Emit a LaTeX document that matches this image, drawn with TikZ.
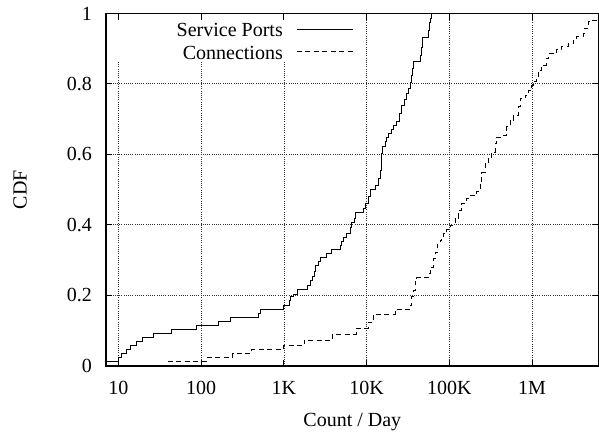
\documentclass[tikz,border=0pt]{standalone}
\usepackage{fontspec}
\setmainfont{Liberation Serif}
\begin{document}
\begin{tikzpicture}[x=1pt,y=-1pt,
  lbl/.style={font=\fontsize{20}{24}\selectfont, inner sep=0pt},
  gridline/.style={black!80, line width=0.5pt, dash pattern=on 0.7pt off 1.5pt},
  frame/.style={line width=1.1pt},
  tickmark/.style={line width=0.8pt},
  curve/.style={line width=0.9pt, line join=miter},
  dcurve/.style={curve, dash pattern=on 5pt off 3.5pt}]
\useasboundingbox (0,0) rectangle (599,431);

% grid
\foreach \gx in {118.3,201,283.8} \draw[gridline] (\gx,62) -- (\gx,366);
\foreach \gx in {366.5,449.3,532} \draw[gridline] (\gx,13.5) -- (\gx,366);
\foreach \gy in {295.2,224.7,154.2,83.7} \draw[gridline] (106,\gy) -- (598.5,\gy);

% ticks
\foreach \gx in {118.3,201,283.8,366.5,449.3,532} {
  \draw[tickmark] (\gx,366) -- (\gx,360);
  \draw[tickmark] (\gx,13.5) -- (\gx,19.5);
}
\foreach \gy in {366,295.2,224.7,154.2,83.7,13.5} {
  \draw[tickmark] (106,\gy) -- (112,\gy);
  \draw[tickmark] (598.5,\gy) -- (592.5,\gy);
}

% frame
\draw[frame] (106,13.5) rectangle (598.5,366);

% y tick labels
\node[lbl, anchor=east] (y0) at (92,366) {0};
\node[lbl, anchor=east] (y2) at (92,295.2) {0.2};
\node[lbl, anchor=east] (y4) at (92,224.7) {0.4};
\node[lbl, anchor=east] (y6) at (92,154.2) {0.6};
\node[lbl, anchor=east] (y8) at (92,83.7) {0.8};
\node[lbl, anchor=east] (y10) at (92,13.5) {1};

% x tick labels
\node[lbl, anchor=base] (x1) at (118.3,394) {10};
\node[lbl, anchor=base] (x2) at (201,394) {100};
\node[lbl, anchor=base] (x3) at (283.8,394) {1K};
\node[lbl, anchor=base] (x4) at (366.5,394) {10K};
\node[lbl, anchor=base] (x5) at (449.3,394) {100K};
\node[lbl, anchor=base] (x6) at (532,394) {1M};

% axis labels
\node[lbl, anchor=base] (xlab) at (352.3,426.5) {Count / Day};
\node[lbl, rotate=90] (ylab) at (20,189.7) {CDF};

% legend
\node[lbl, anchor=base east] (k1) at (283,36.5) {Service Ports};
\node[lbl, anchor=base east] (k2) at (283,59.3) {Connections};
\coordinate (k1a) at (296.7,29);
\coordinate (k1b) at (353.3,29);
\coordinate (k2a) at (296.7,51);
\coordinate (k2b) at (353.3,51);
\draw[curve] (k1a) -- (k1b);
\draw[dcurve] (k2a) -- (k2b);

% Service Ports
\draw[curve] (106,361) -| (118.3,357.3) -| (121.7,353.3) -| (126.7,349.3)
 -| (130.7,345.3) -| (136,341.3) -| (142,337.3) -| (153.3,333.3)
 -| (171.7,329.3) -| (196.7,325.3) -| (218.3,321.7) -| (230,317.7)
 -| (258.3,313.3) -| (260,309.3) -| (283.5,305.3) -| (289,300.7)
 -| (290.5,296.7) -| (293.3,294) -| (297.3,289.3) -| (307.3,285)
 -| (310,280.7) -| (312.7,276.7) -| (314,271) -| (315.3,265)
 -| (318,261) -| (320,257.3) -| (326,253.3) -| (331.7,249.3)
 -| (340,245) -| (341.7,241.7) -| (343.3,237.3) -| (346.7,233.3)
 -| (350,227.3) -| (351.7,222.7) -| (354,218) -| (355,212.7)
 -| (363.3,208.3) -| (365.7,203.3) -| (368.3,196.7) -| (370.7,189.3)
 -| (375,185) -| (378.3,178.3) -| (380,170) -| (381,160)
 -| (381.7,153.3) -| (382.7,146.7) -| (385,141.7) -| (386,137.3)
 -| (388.3,133.3) -| (391,129) -| (393.3,125) -| (396.7,121.7)
 -| (399.3,113.3) -| (401,105) -| (404,99) -| (406.7,93.3)
 -| (408,88) -| (410,82.7) -| (411,75) -| (412,68) -| (413.3,61.7)
 -| (420,55) -| (421,47) -| (422.7,37.3) -| (428.3,30)
 -| (429.3,22) -| (430.3,18) -| (431.7,13.5);

% Connections
\draw[dcurve] (167.7,361) -| (207,357.3) -| (232.5,353.5) -| (251.5,349.8)
 -| (283.5,345.8) -| (304,340) -| (332.7,334) -| (356,328) -| (368,322)
 -| (373.3,314) -| (395,309.3) -| (410,305) -| (411.7,296.7)
 -| (413.3,290) -| (415,281) -| (416.7,277.3) -| (428.3,273.3)
 -| (430,267.3) -| (433.3,258) -| (435,252) -| (437.3,244)
 -| (440,240) -| (441.7,236.7) -| (443.3,233.3) -| (446.7,229)
 -| (450,225) -| (455,218) -| (458.3,210) -| (461.7,203)
 -| (466.7,198.3) -| (470,195) -| (474,193.3) -| (476.7,191.7)
 -| (480,181.7) -| (481.7,172) -| (485,163.3) -| (488.3,157)
 -| (491.7,152) -| (495,143.3) -| (496.7,137) -| (503.3,135)
 -| (506.7,126.7) -| (510,120) -| (513.3,115) -| (518.3,106.7)
 -| (520,98.3) -| (525,95) -| (528.3,90) -| (531.7,85)
 -| (533.3,81.7) -| (536.7,76.7) -| (538.3,70) -| (541.7,65)
 -| (546,58.3) -| (548.3,53.3) -| (556.7,49.3) -| (561.7,46)
 -| (568.3,43.3) -| (573.3,40) -| (576.7,36.7) -| (583.3,33.3)
 -| (584,28.3) -| (588.3,21.7) -| (592.7,20.3) -- (598.5,20.3);
\end{tikzpicture}
\end{document}
